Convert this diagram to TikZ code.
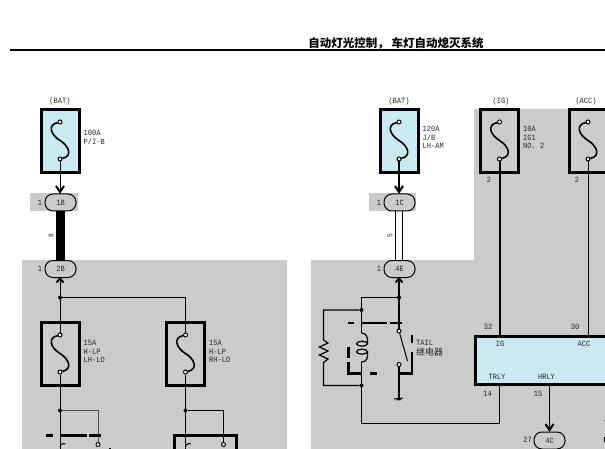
\documentclass[tikz,border=0pt]{standalone}
\usepackage{fontspec}
\setmainfont[FakeStretch=0.875]{Liberation Mono}
\newfontfamily\cjk{Noto Sans CJK SC}
\definecolor{panel}{HTML}{CBCBCB}
\definecolor{lblue}{HTML}{CBE9F1}
\tikzset{
 x=1pt,y=-1pt,
 lbl/.style={font=\fontsize{8}{8.7}\selectfont,text=black!85,inner sep=0pt,align=left},
 fusebox/.style={draw=black,line width=3pt,miter limit=2},
 wire/.style={draw=black,line width=1pt},
 dot/.style={circle,fill=black,inner sep=0pt,minimum size=4pt},
 term/.style={circle,draw=black,fill=white,line width=1pt,inner sep=0pt,minimum size=4pt},
 pill/.style={draw=black,line width=1pt,rounded corners=8pt,minimum width=31pt,minimum height=17pt,inner sep=0pt,font=\fontsize{8}{8.7}\selectfont,text=black!85},
 chev/.style={draw=black,line width=2pt},
 bar/.style={draw=black,line width=2.5pt},
}
\newcommand{\fusesym}[3]{% center x, top y, name
  \node[term] (#3t) at (#1,#2) {};
  \node[term] (#3b) at (#1,#2+37) {};
  \draw[draw=black,line width=1.6pt] (#3t) .. controls (#1-13,#2+3) and (#1-9,#2+13) .. (#1,#2+18.5) .. controls (#1+9,#2+24) and (#1+13,#2+34) .. (#3b);
}
\newcommand{\chevdown}[2]{\draw[chev] (#1-4,#2-6) -- (#1,#2) -- (#1+4,#2-6);}
\newcommand{\chevup}[2]{\draw[chev] (#1-3.5,#2+4) -- (#1,#2) -- (#1+3.5,#2+4);}
\begin{document}
\begin{tikzpicture}
\useasboundingbox (0,0) rectangle (605,449);
\fill[white] (0,0) rectangle (605,449);
% panels
\fill[panel] (22,260) rectangle (287,449);
\fill[panel] (311,449) -- (311,260) -- (474,260) -- (474,109) -- (605,109) -- (605,449) -- cycle;
\fill[panel] (30,193) rectangle (78,211);
\fill[panel] (369,193) rectangle (416,211);
% title
\draw[line width=1.5pt] (10,50) -- (605,50);
\node[inner sep=0pt,font=\cjk\bfseries\fontsize{11.5}{12}\selectfont] (title) at (396,43) {自动灯光控制，\hspace{3pt}车灯自动熄灭系统};
% top labels
\node[lbl] (l1) at (60,101) {(BAT)};
\node[lbl] (l2) at (399,101) {(BAT)};
\node[lbl] (l3) at (501,101) {(IG)};
\node[lbl] (l4) at (586,101) {(ACC)};
% fuses
\draw[fusebox,fill=lblue] (41.5,109.5) rectangle (79.5,172.5);
\draw[fusebox,fill=lblue] (380.5,109.5) rectangle (418.5,172.5);
\draw[fusebox] (480.5,109.5) rectangle (518.5,172.5);
\draw[fusebox] (569.5,109.5) rectangle (607.5,172.5);
\draw[fusebox] (41.5,322.5) rectangle (79.5,385.5);
\draw[fusebox] (166.5,322.5) rectangle (204.5,385.5);
\fusesym{60}{122}{fa}
\fusesym{399}{122}{fb}
\fusesym{499.5}{122}{fc}
\fusesym{588}{122}{fd}
\fusesym{60}{335}{fe}
\fusesym{185.5}{335}{ff}
\node[lbl,anchor=north west] (f1) at (83.5,130) {100A\\P/I-B};
\node[lbl,anchor=north west] (f2) at (422.5,126) {120A\\J/B\\LH-AM};
\node[lbl,anchor=north west] (f3) at (523,126) {10A\\IG1\\NO. 2};
\node[lbl,anchor=north west] (f4) at (83.5,340) {15A\\H-LP\\LH-LO};
\node[lbl,anchor=north west] (f5) at (209,340) {15A\\H-LP\\RH-LO};
\node[lbl] (n1) at (489,180) {2};
\node[lbl] (n2) at (577,180) {2};
% pills
\node[pill] (p1b) at (60.5,202.5) {1B};
\node[pill] (p2b) at (60.5,269) {2B};
\node[pill] (p1c) at (399.5,202.5) {1C};
\node[pill] (p4e) at (399.5,269) {4E};
\node[pill] (p4c) at (549.5,440.5) {4C};
\node[lbl] at (40,202.5) {1};
\node[lbl] at (40,269) {1};
\node[lbl] at (379,202.5) {1};
\node[lbl] at (379,269) {1};
\node[lbl] at (527.5,440) {27};
% left column wires
\draw[wire] (fab) -- (60,192);
\chevdown{60}{192}
\draw[draw=black,line width=9pt] (60.5,211) -- (60.5,260);
\node[lbl,rotate=90,font=\fontsize{7}{8}\selectfont] at (51,236) {8};
\chevup{60}{278.5}
\draw[wire] (60,279) -- (fet);
\node[dot] (j1) at (60,297.5) {};
\draw[wire] (j1) -- (185.5,297.5) -- (fft);
\draw[wire] (feb) -- (60,449);
\draw[wire] (ffb) -- (185.5,449);
\node[dot] (j2) at (60,410.5) {};
\node[dot] (j3) at (185.5,410.5) {};
\node[term] (s1) at (98,444.5) {};
\node[term] (s2) at (223.5,444.5) {};
\draw[wire,draw=black!70] (j2) -- (98,410.5) -- (s1);
\draw[wire] (j3) -- (223.5,410.5) -- (s2);
\draw[bar] (46,435.5) -- (53,435.5) (60,435.5) -- (87,435.5) (89,435.5) -- (101,435.5);
\draw[line width=3pt] (174.5,449) -- (174.5,435.5) -- (236,435.5) -- (236,449);
\draw[wire] (60,447) arc (180:300:3.5);
\draw[wire] (185.5,447) arc (180:300:3.5);
\draw[line width=2pt] (110,447.5) -- (110,449);
% right column
\draw[line width=1.6pt] (fbb) -- (399,192);
\chevdown{399}{192}
\draw[wire] (395.5,211) -- (395.5,260) (402.5,211) -- (402.5,260);
\node[lbl,rotate=90,font=\fontsize{7}{8}\selectfont] at (390,236) {5};
\chevup{399}{278.5}
\node[term] (s3) at (399,331) {};
\node[term] (s4) at (399,364.5) {};
\draw[line width=1.6pt] (399,279) -- (s3);
\node[dot] (j4) at (399,297.5) {};
\node[dot] (j5) at (361.5,310) {};
\node[dot] (j6) at (361.5,385.5) {};
\coordinate (ct) at (361.5,333);
\coordinate (cb) at (361.5,362);
\draw[wire] (j4) -- (361.5,297.5) -- (ct);
\draw[wire] (cb) -- (361.5,423) -- (499.5,423) -- (499.5,386);
\draw[line width=1.2pt] (j5) -- (323.5,310) -- (323.5,340) -- (328,343) -- (319.5,347) -- (328,351) -- (319.5,355) -- (328,359) -- (323.5,362.5) -- (323.5,385.5) -- (j6);
\draw[bar] (348,322.8) -- (354,322.8) (361.5,322.8) -- (386.7,322.8) (390,322.8) -- (401.5,322.8);
% coil
\draw[line width=1.2pt] (ct) .. controls (367,333) and (368,338) .. (367.5,343.7);
\draw[line width=1.2pt] (362,343.7) ellipse (5.5 and 2.5) (362,351.7) ellipse (5.5 and 2.5);
\draw[line width=1.2pt] (367.5,351.7) .. controls (368,358) and (367,362) .. (cb);
\draw[bar] (348.3,347) -- (348.3,358) (348.3,362) -- (348.3,373.3) -- (362,373.3) (370,373.3) -- (377,373.3);
\draw[wire] (s3) -- (407.5,361);
\draw[line width=1.6pt] (s4) -- (399,398);
\draw[wire] (394,399) -- (403,398) (397,400) -- (401,399.5);
\draw[bar] (399,373.3) -- (412,373.3) -- (412,352);
\draw[bar] (412,335) -- (412,343);
\node[lbl,anchor=north west] (t1) at (416,340.5) {TAIL};
\node[lbl,anchor=north west,font=\cjk\fontsize{9}{10}\selectfont] (t2) at (416,347.5) {继电器};
% module
\draw[line width=3.5pt,fill=lblue] (610,336.5) -- (475.5,336.5) -- (475.5,384.5) -- (610,384.5);
\draw[line width=2pt] (fcb) -- (fcb |- 0,334.5);
\draw[wire] (fdb) -- (fdb |- 0,334.5);
\node[lbl] at (488,327) {32};
\node[lbl] at (575,327) {30};
\node[lbl] at (500,343.5) {IG};
\node[lbl] at (584,343.5) {ACC};
\node[lbl] at (497,376.5) {TRLY};
\node[lbl] at (546.5,376.5) {HRLY};
\node[lbl] at (487.5,393.5) {14};
\node[lbl] at (538,393.5) {15};
\draw[wire] (549.5,386) -- (549.5,430);
\chevdown{549.5}{430}
% marks at the right edge
\draw[line width=1pt,draw=black!70] (604,420.5) -- (605,420.5);
\draw[line width=1.5pt] (604.3,437) -- (604.3,442);
\end{tikzpicture}
\end{document}
